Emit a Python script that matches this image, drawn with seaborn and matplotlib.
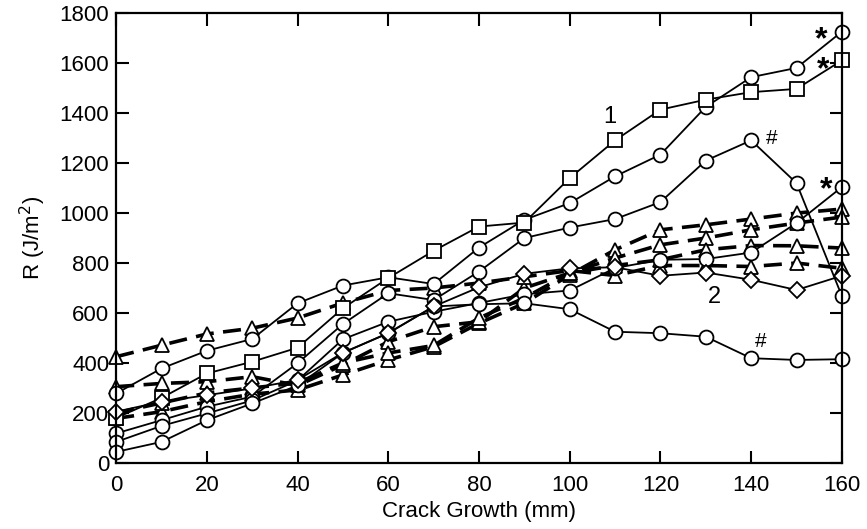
import matplotlib
matplotlib.use('Agg')
import matplotlib.pyplot as plt
import seaborn as sns

# crack growth (mm)
growth = [0, 10, 20, 30, 40, 50, 60, 70, 80, 90, 100, 110, 120, 130, 140, 150, 160]

# solid curves
circ_1 = [278, 378, 449, 496, 639, 710, 743, 716, 862, 973, 1040, 1147, 1234, 1425, 1544, 1581, 1726]
circ_2 = [118, 171, 225, 265, 399, 556, 679, 652, 766, 900, 942, 976, 1044, 1210, 1291, 1120, 668]
circ_3 = [84, 148, 198, 250, 330, 495, 565, 605, 640, 675, 690, 780, 813, 816, 842, 960, 1104]
circ_4 = [44, 84, 171, 238, 310, 440, 520, 626, 635, 639, 615, 525, 519, 505, 419, 412, 415]
square_1 = [180, 260, 358, 405, 461, 619, 740, 849, 946, 962, 1140, 1291, 1414, 1454, 1484, 1497, 1611]
diamond_2 = [205, 245, 271, 298, 332, 441, 519, 626, 703, 757, 779, 783, 749, 762, 733, 692, 749]

# dashed curves
tri_a = [178, 205, 245, 275, 292, 352, 412, 465, 559, 639, 753, 853, 933, 953, 976, 1000, 1016]
tri_b = [305, 318, 325, 345, 310, 392, 485, 545, 565, 700, 760, 820, 873, 900, 933, 960, 984]
tri_c = [425, 471, 516, 539, 580, 640, 690, 700, 720, 745, 770, 750, 790, 790, 786, 800, 779]
tri_d = [200, 240, 280, 300, 320, 400, 440, 470, 580, 660, 760, 790, 813, 853, 870, 869, 860]

sns.set_theme(style='ticks')
plt.rcParams['font.family'] = ['Liberation Sans', 'DejaVu Sans']
plt.rcParams['text.color'] = 'black'
plt.rcParams['axes.labelcolor'] = 'black'

fig = plt.figure(figsize=(8.67, 5.29), dpi=100)
ax = fig.add_axes([0.134, 0.125, 0.837, 0.85])

mk = dict(color='black', markerfacecolor='white', markeredgecolor='black',
          markeredgewidth=1.3, markersize=10, clip_on=False, ax=ax)

for ys in [tri_a, tri_b, tri_c, tri_d]:
    sns.lineplot(x=growth, y=ys, marker='^', linewidth=2.6,
                 linestyle=(0, (5, 2.6)), **mk)

for ys in [circ_1, circ_2, circ_3, circ_4]:
    sns.lineplot(x=growth, y=ys, marker='o', linewidth=1.3, **mk)
sns.lineplot(x=growth, y=square_1, marker='s', linewidth=1.3, **mk)
sns.lineplot(x=growth, y=diamond_2, marker='D', linewidth=1.3,
             **{**mk, 'markersize': 8.5})

# annotations
star = dict(fontsize=23, fontweight='bold', ha='center', va='center')
ax.text(155.4, 1690, '*', **star)
ax.text(155.8, 1572, '*', **star)
ax.text(156.5, 1090, '*', **star)
ax.text(144.5, 1300, '#', fontsize=15, ha='center', va='center')
ax.text(142, 485, '#', fontsize=15, ha='center', va='center')
ax.text(108.8, 1386, '1', fontsize=17, ha='center', va='center')
ax.text(132, 666, '2', fontsize=17, ha='center', va='center')

ax.set_xlim(0, 160)
ax.set_ylim(0, 1800)
ax.set_xticks(range(0, 161, 20))
ax.set_yticks(range(0, 1801, 200))
ax.tick_params(direction='in', length=9, width=1.5, labelsize=16,
               top=True, right=True, colors='black')
ax.tick_params(axis='x', pad=9)
ax.tick_params(axis='y', pad=5)
for s in ax.spines.values():
    s.set_linewidth(1.6)
    s.set_color('black')
ax.set_xlabel('Crack Growth (mm)', fontsize=16, labelpad=3)
ax.set_ylabel('R (J/m$^2$)', fontsize=16, labelpad=8)

plt.savefig('out.png', dpi=100)
